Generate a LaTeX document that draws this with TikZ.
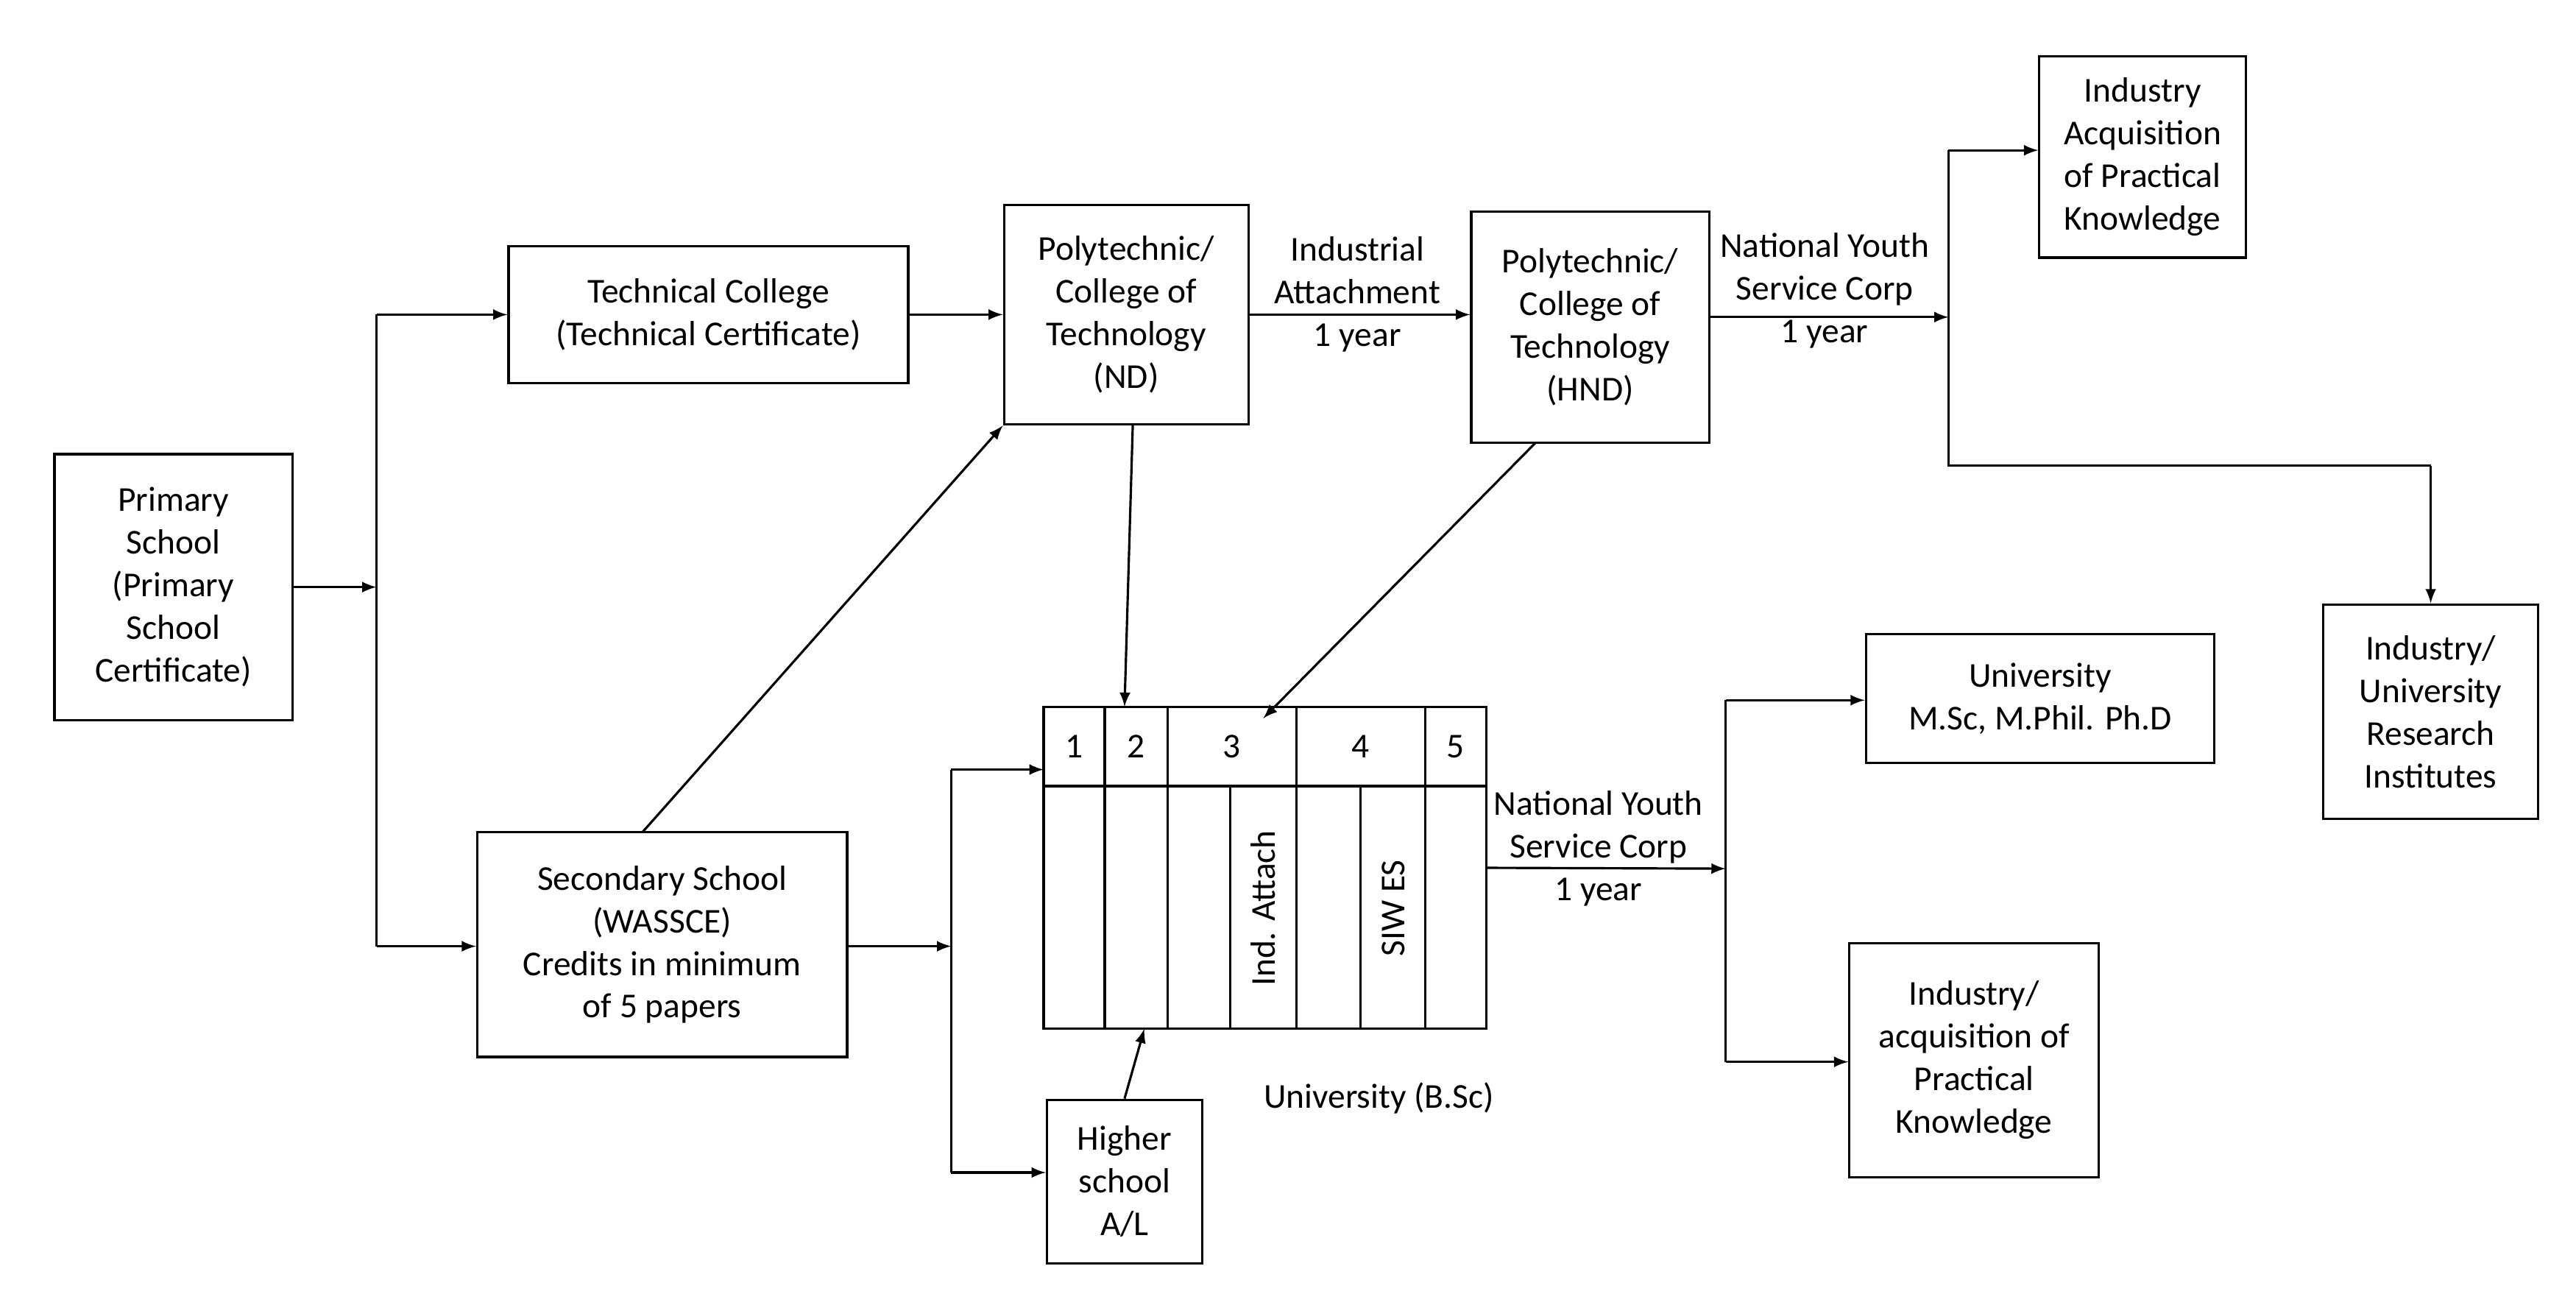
\documentclass[tikz,border=0pt]{standalone}
\usepackage{fontspec}
\setmainfont{Carlito}
\usetikzlibrary{arrows}
\tikzset{
  box/.style 2 args={draw, line width=0.9pt, minimum width=#1*0.2244mm,
    minimum height=#2*0.2244mm, align=center, inner sep=0pt},
  lbl/.style={align=center, inner sep=0pt},
  con/.style={line width=0.9pt},
  arr/.style={line width=0.9pt, -latex}
}
\begin{document}
\begin{tikzpicture}[x=0.2244mm, y=-0.2244mm, font=\fontsize{13.5}{16.5}\selectfont]
          \useasboundingbox (0,0) rectangle (1560,790);

          % boxes
          \node[box={144}{161}] (prim) at (105,355.5) {Primary\\School\\(Primary\\School\\Certificate)};
          \node[box={242}{83}] (tech) at (429,190.5) {Technical College\\(Technical Certificate)};
          \node[box={148}{133}] (nd) at (682,190.5) {Polytechnic/\\College of\\Technology\\(ND)};
          \node[box={144}{140}] (hnd) at (963,198) {Polytechnic/\\College of\\Technology\\(HND)};
          \node[box={125}{122}] (indtop) at (1297.5,95) {Industry\\Acquisition\\of Practical\\Knowledge};
          \node[box={130}{130}] (res) at (1472,431) {Industry/\\University\\Research\\Institutes};
          \node[box={211}{78}] (msc) at (1235.5,423) {University\\M.Sc, M.Phil. Ph.D};
          \node[box={151}{142}] (acq) at (1195.5,642) {Industry/\\acquisition of\\Practical\\Knowledge};
          \node[box={224}{136}] (sec) at (401,572) {Secondary School\\(WASSCE)\\Credits in minimum\\of 5 papers};
          \node[box={94}{99}] (hs) at (681,715.5) {Higher\\school\\A/L};

          % university table
          \node[box={268}{195}] (tab) at (766,525.5) {};
          \draw[con] (632,476) -- (900,476);
          \foreach \x in {669,707,785,863} \draw[con] (\x,428) -- (\x,623);
          \foreach \x in {745,824} \draw[con] (\x,476) -- (\x,623);
          \node[lbl] (c1) at (650.5,452) {1};
          \node[lbl] (c2) at (688,452) {2};
          \node[lbl] (c3) at (746,452) {3};
          \node[lbl] (c4) at (824,452) {4};
          \node[lbl] (c5) at (881.5,452) {5};
          \node[lbl, rotate=90] (ia) at (765,550) {Ind. Attach};
          \node[lbl, rotate=90] (siw) at (844,550) {SIW ES};
          \node[lbl] (bsc) at (835,665) {University (B.Sc)};

          % junction points
          \coordinate (j1) at (228,355.5);
          \coordinate (j2) at (576,573);
          \coordinate (j3) at (1180,192);
          \coordinate (j4) at (1045,526);
          \coordinate (t2) at (681,428);
          \coordinate (t3) at (765,435);
          \coordinate (tin) at (632,466);
          \coordinate (tup) at (693,623);

          \draw[arr] (prim.east |- j1) -- (j1);
          \draw[con] (228,190.5) -- (228,573);
          \draw[arr] (228,190.5) -- (tech.west);
          \draw[arr] (228,573) -- (sec.west |- 0,573);
          \draw[arr] (tech.east) -- (nd.west |- tech.east);
          \draw[arr] (389,504) -- (nd.south west);
          \draw[arr] (686,257) -- (t2);
          \draw[arr] (nd.east |- 0,190.5) -- (hnd.west |- 0,190.5);
          \node[lbl] (ia1) at (822,178) {Industrial\\Attachment\\1 year};
          \draw[arr] (930,268) -- (t3);

          \draw[arr] (hnd.east |- j3) -- (j3);
          \node[lbl] (ny1) at (1105,176) {National Youth\\Service Corp\\1 year};
          \draw[con] (1180,91) -- (1180,282) -- (1472,282);
          \draw[arr] (1180,91) -- (indtop.west |- 0,91);
          \draw[arr] (1472,282) -- (res.north);

          \draw[arr] (sec.east |- j2) -- (j2);
          \draw[con] (576,466) -- (576,710);
          \draw[arr] (576,466) -- (tin);
          \draw[arr] (576,710) -- (hs.west |- 0,710);
          \draw[arr] (hs.north) -- (tup);

          \draw[arr] (tab.east) -- (j4);
          \node[lbl] (ny2) at (968,514) {National Youth\\Service Corp\\1 year};
          \draw[con] (1045,424) -- (1045,643);
          \draw[arr] (1045,424) -- (msc.west |- 0,424);
          \draw[arr] (1045,643) -- (acq.west |- 0,643);
\end{tikzpicture}
\end{document}
